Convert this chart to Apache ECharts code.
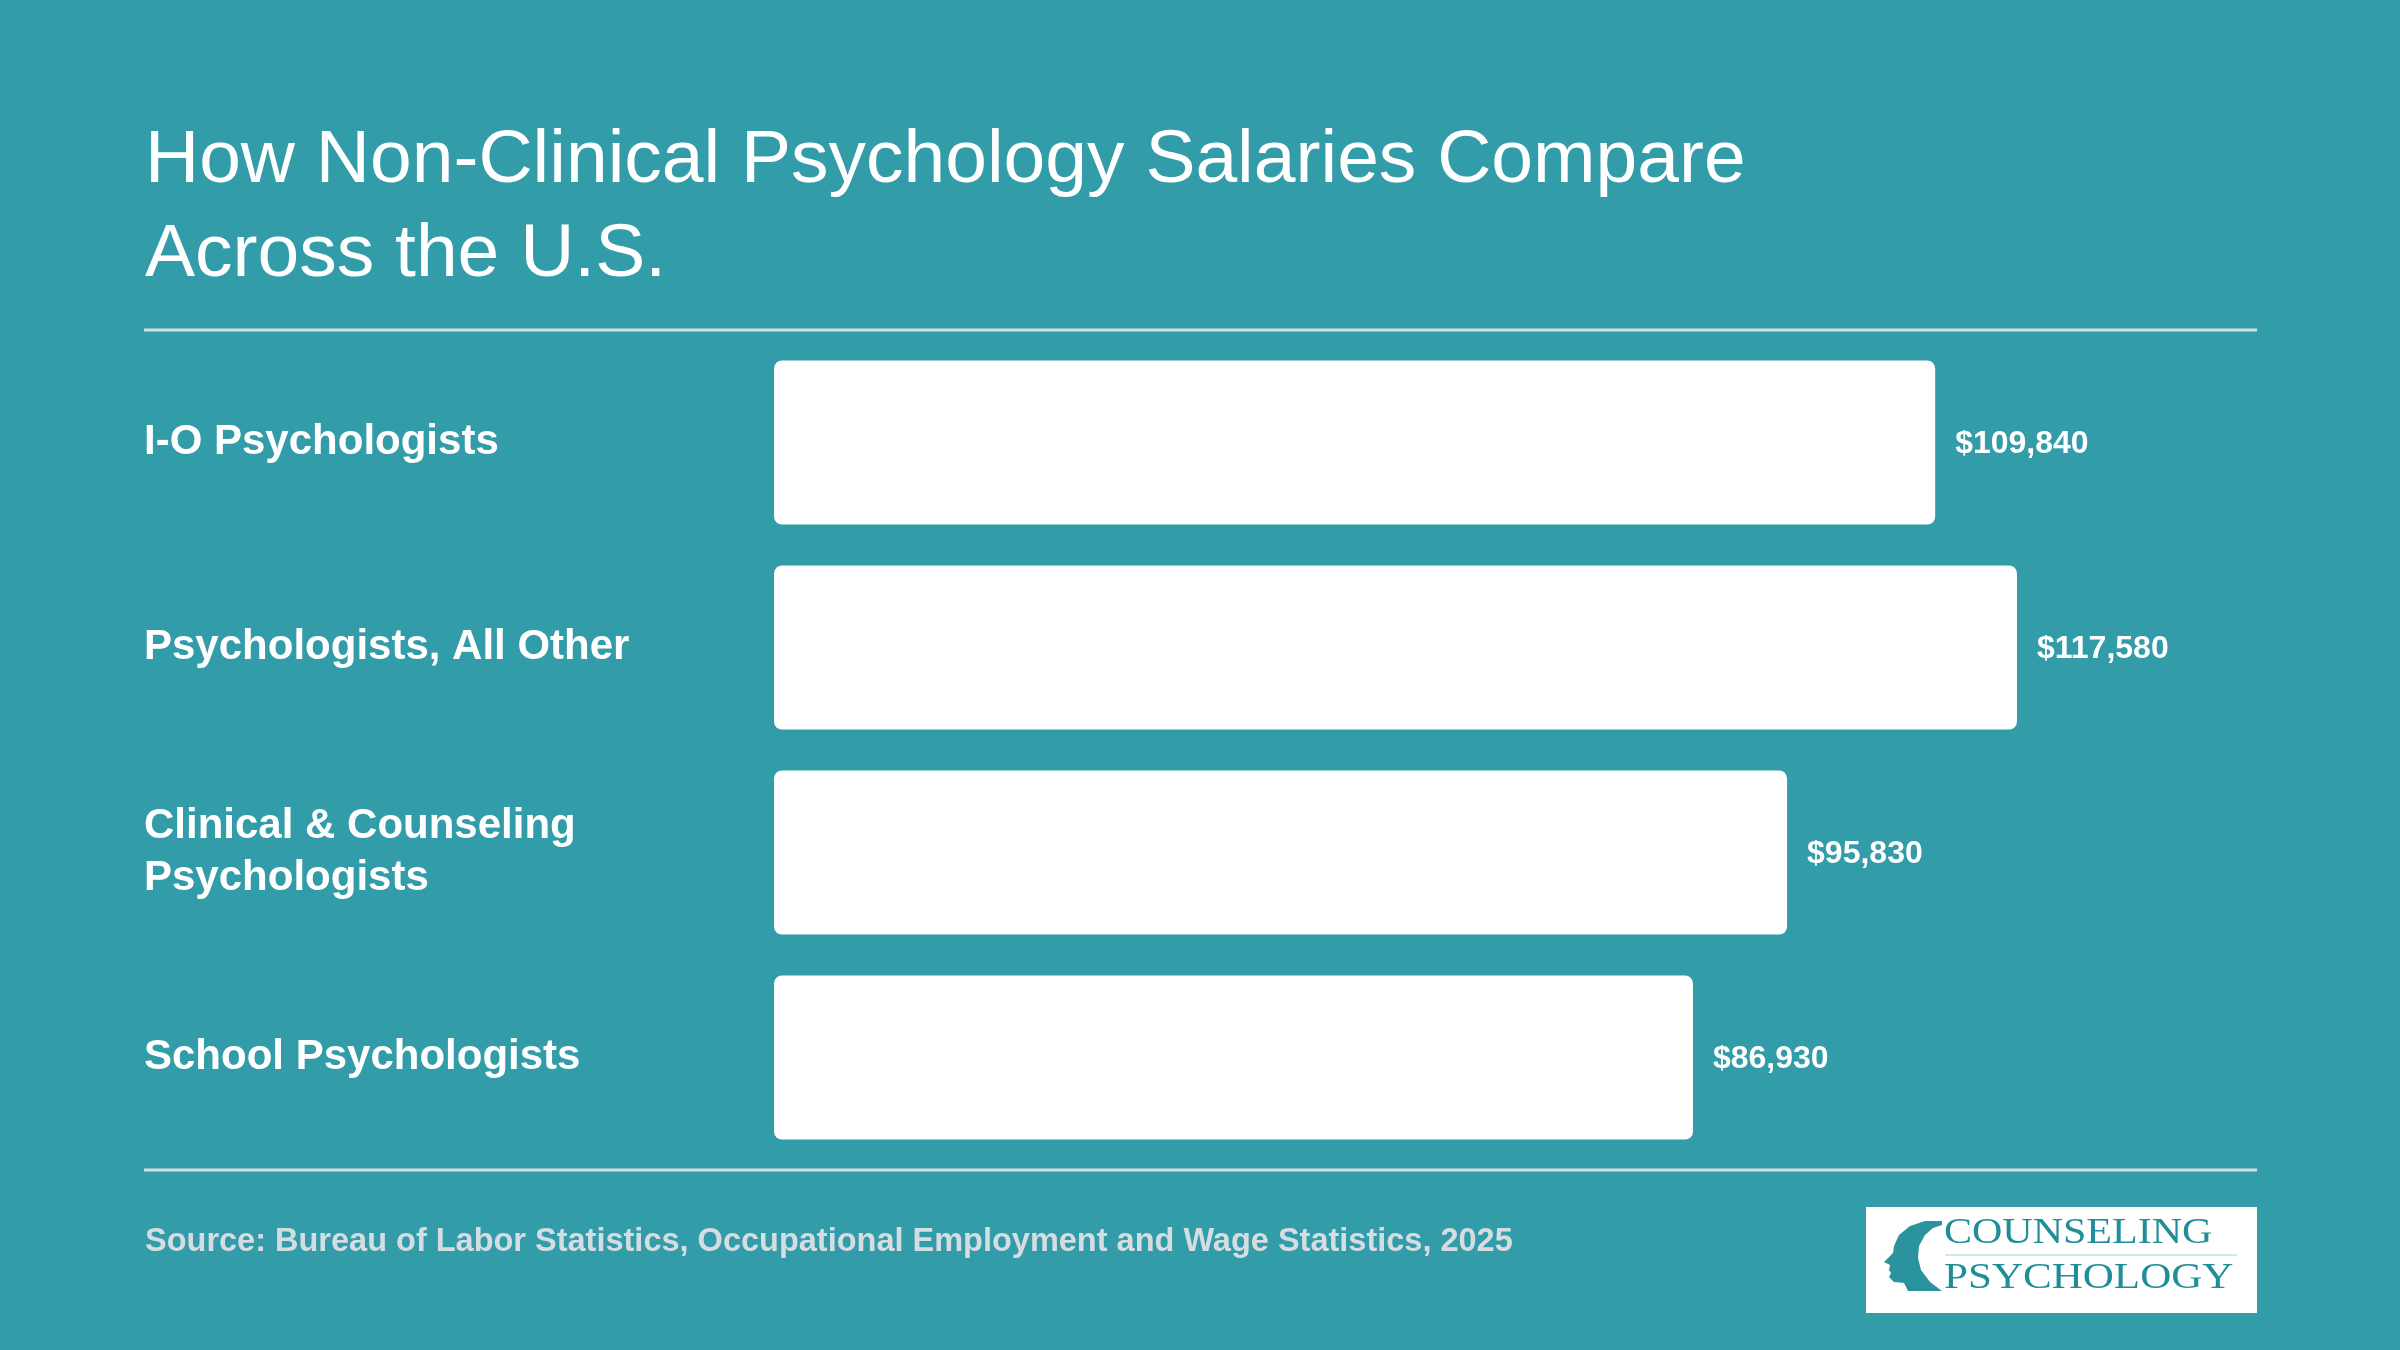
<!DOCTYPE html>
<html>
<head>
<meta charset="utf-8">
<title>Non-Clinical Psychology Salaries</title>
<script src="https://cdn.jsdelivr.net/npm/echarts@6/dist/echarts.min.js"></script>
<style>
  html, body { margin: 0; padding: 0; background: #329ca9; }
  #chart { width: 2400px; height: 1350px; }
</style>
</head>
<body>
<div id="chart"></div>
<script>
// chart data
var categories = [
  "I-O Psychologists",
  "Psychologists, All Other",
  "Clinical & Counseling\nPsychologists",
  "School Psychologists"
];
var salaries = [109840, 117580, 95830, 86930];

var titleLines = ["How Non-Clinical Psychology Salaries Compare", "Across the U.S."];
var sourceText = "Source: Bureau of Labor Statistics, Occupational Employment and Wage Statistics, 2025";

var bg = "#329ca9";
var sepColor = "#d7dee2";
var logoTeal = "#1f8e98";
var font = "'Liberation Sans', Arial, Helvetica, sans-serif";
var serif = "'Liberation Serif', 'Times New Roman', serif";

var chart = echarts.init(document.getElementById("chart"));

function money(v) {
  return "$" + v.toLocaleString("en-US");
}

// head silhouette of the logo (rough outline)
var headPoints = [
  [1942, 1221], [1925, 1221], [1910, 1226], [1899, 1235], [1894, 1246],
  [1893, 1253], [1884, 1262], [1890, 1265], [1889, 1270], [1891, 1273],
  [1889, 1277], [1894, 1282], [1904, 1283], [1908, 1291], [1942, 1291],
  [1930, 1282], [1921, 1270], [1918, 1258], [1919, 1246], [1925, 1235],
  [1933, 1228], [1942, 1225]
];

var option = {
  backgroundColor: bg,
  animation: false,
  grid: {
    left: 774,
    right: 146,
    top: 340,
    bottom: 190,
    containLabel: false
  },
  xAxis: {
    type: "value",
    min: 0,
    max: 140000,
    show: false
  },
  yAxis: {
    type: "category",
    data: categories,
    inverse: true,
    axisLine: { show: false },
    axisTick: { show: false },
    splitLine: { show: false },
    axisLabel: {
      align: "left",
      margin: 630,
      color: "#ffffff",
      fontFamily: font,
      fontWeight: "bold",
      fontSize: 42,
      lineHeight: 52,
      padding: [4, 0, 0, 0]
    }
  },
  series: [
    {
      type: "bar",
      data: salaries,
      barCategoryGap: "20%",
      itemStyle: {
        color: "#ffffff",
        borderRadius: 8
      },
      label: {
        show: true,
        position: "right",
        distance: 20,
        offset: [0, 2],
        color: "#ffffff",
        fontFamily: font,
        fontWeight: "bold",
        fontSize: 32,
        formatter: function (p) { return money(p.value); }
      }
    }
  ],
  graphic: [
    // title
    {
      type: "text",
      x: 145,
      y: 161,
      style: {
        text: titleLines[0],
        fill: "#ffffff",
        font: "75px " + font,
        verticalAlign: "middle"
      }
    },
    {
      type: "text",
      x: 145,
      y: 255,
      style: {
        text: titleLines[1],
        fill: "#ffffff",
        font: "75px " + font,
        verticalAlign: "middle"
      }
    },
    // separators
    {
      type: "line",
      shape: { x1: 144, y1: 330, x2: 2257, y2: 330 },
      style: { stroke: sepColor, lineWidth: 3 }
    },
    {
      type: "line",
      shape: { x1: 144, y1: 1170, x2: 2257, y2: 1170 },
      style: { stroke: sepColor, lineWidth: 3 }
    },
    // source
    {
      type: "text",
      x: 145,
      y: 1242,
      style: {
        text: sourceText,
        fill: "#d5dde2",
        font: "bold 32.5px " + font,
        verticalAlign: "middle"
      }
    },
    // logo box
    {
      type: "rect",
      shape: { x: 1866, y: 1207, width: 391, height: 106 },
      style: { fill: "#ffffff" }
    },
    {
      type: "polygon",
      shape: { points: headPoints },
      style: { fill: "#2a939d" }
    },
    {
      type: "text",
      x: 1944,
      y: 1234,
      scaleX: 1.2,
      style: {
        text: "COUNSELING",
        fill: logoTeal,
        font: "35px " + serif,
        verticalAlign: "middle"
      }
    },
    {
      type: "line",
      shape: { x1: 1945, y1: 1255, x2: 2237, y2: 1255 },
      style: { stroke: "#bfe0e3", lineWidth: 1.5 }
    },
    {
      type: "text",
      x: 1944,
      y: 1279,
      scaleX: 1.23,
      style: {
        text: "PSYCHOLOGY",
        fill: logoTeal,
        font: "35px " + serif,
        verticalAlign: "middle"
      }
    }
  ]
};

chart.setOption(option);
</script>
</body>
</html>
